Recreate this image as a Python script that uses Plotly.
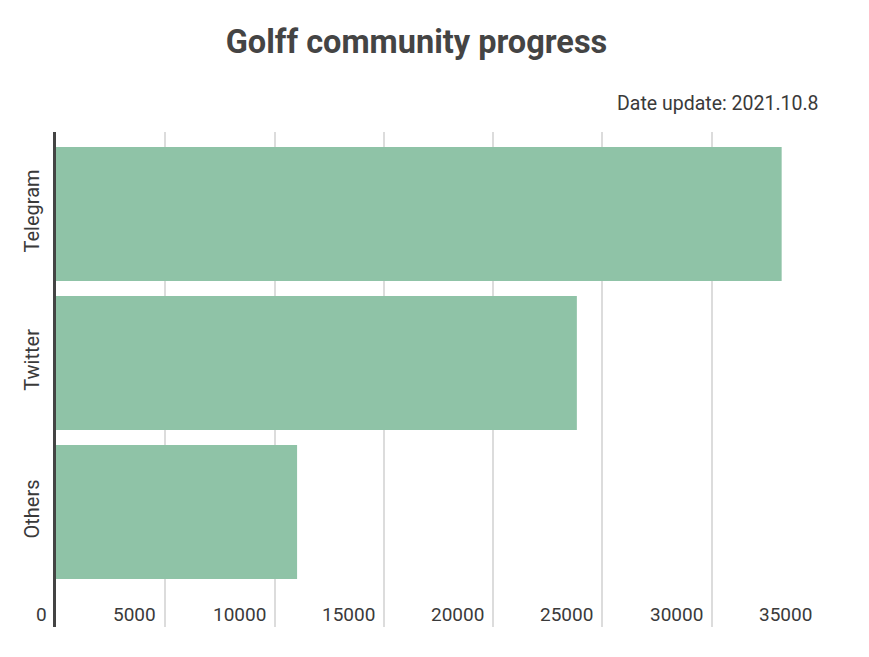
import plotly.graph_objects as go

categories = ["Telegram", "Twitter", "Others"]
values = [33200, 23830, 11030]
tick_values = [0, 5000, 10000, 15000, 20000, 25000, 30000, 35000]
tick_labels = ["0", "5000", "10000", "15000", "20000", "25000", "30000", "35000"]

TEXT = "#3a3a3a"
FONT = "Roboto"

fig = go.Figure(go.Bar(
    x=values, y=categories, orientation="h",
    marker=dict(color="#8fc3a7", line=dict(width=0)),
    hoverinfo="skip",
))

# page body has an 8px margin, so the figure is offset by 8px
OFF = 8
W, H = 869 - OFF, 657 - OFF
L, R, T, B = 56 - OFF, 48, 132 - OFF, 30
PW, PH = W - L - R, H - T - B

annotations = []
for v, t in zip(tick_values, tick_labels):
    annotations.append(dict(
        x=v, y=(627 - 614) / PH, xref="x", yref="paper", text=t, showarrow=False,
        xanchor="right", yanchor="middle", xshift=-7,
        font=dict(family=FONT, size=19, color=TEXT),
    ))
annotations.append(dict(
    x=1.0, y=(627 - 103) / PH, xref="paper", yref="paper",
    text="Date update: 2021.10.8", showarrow=False, xanchor="right", yanchor="middle",
    xshift=0, font=dict(family=FONT, size=19.5, color=TEXT),
))

fig.update_layout(
    width=W, height=H,
    margin=dict(l=L, r=R, t=T, b=B, pad=0),
    paper_bgcolor="white", plot_bgcolor="white",
    bargap=0.1,
    showlegend=False,
    title=dict(
        text="<b>Golff community progress</b>",
        x=(416.5 - OFF - L) / PW, xref="paper", xanchor="center",
        y=1 - (42 - OFF) / H, yref="container", yanchor="middle",
        font=dict(family=FONT, size=32.5, color="#444444"),
    ),
    xaxis=dict(
        range=[0, 35000], tickvals=tick_values, showticklabels=False,
        showgrid=True, gridcolor="#dcdcdc", gridwidth=1.5,
        zeroline=False, showline=False, fixedrange=True,
    ),
    yaxis=dict(
        categoryorder="array", categoryarray=categories,
        range=[2.772, -0.55], tickangle=-90,
        showline=True, linecolor="#444444", linewidth=3,
        showgrid=False, zeroline=False, ticks="",
        tickfont=dict(family=FONT, size=20, color=TEXT),
        ticklabelstandoff=6,
    ),
    annotations=annotations,
)

fig.write_html("out.html")
